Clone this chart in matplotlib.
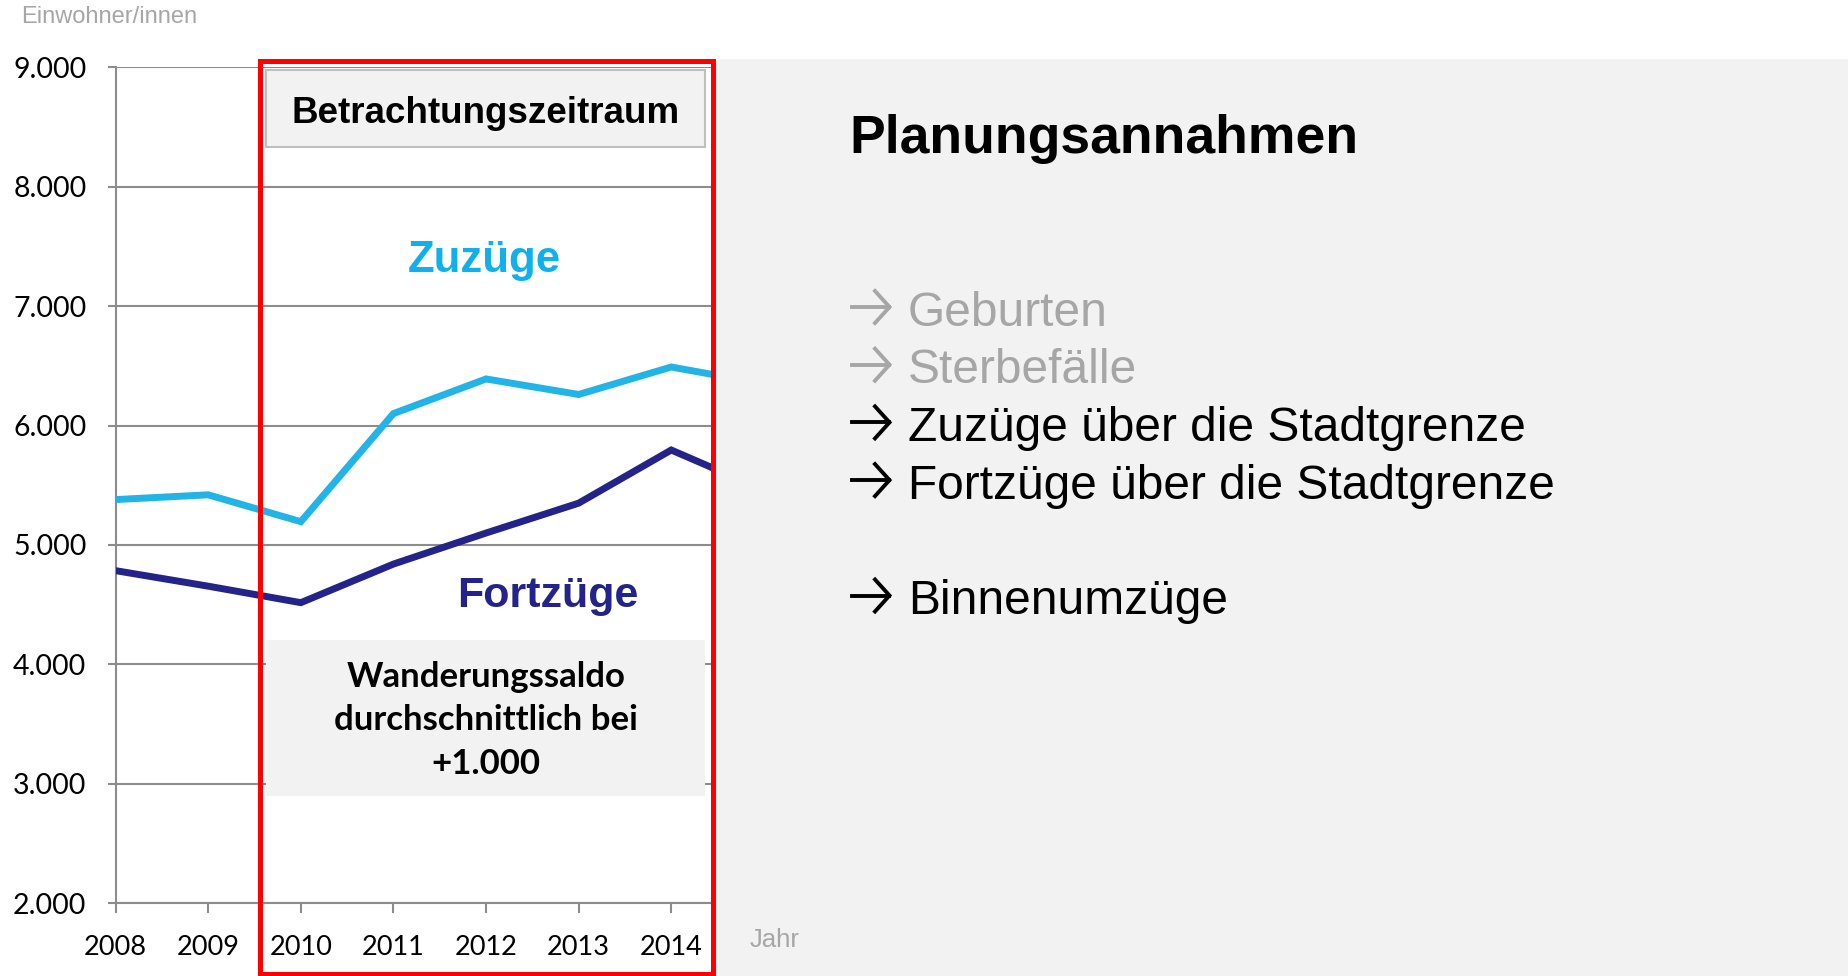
import matplotlib
matplotlib.use("Agg")
import matplotlib.pyplot as plt
from matplotlib.patches import Rectangle
from matplotlib.lines import Line2D
from matplotlib.ticker import FuncFormatter

# -----------------------------
# Data
# -----------------------------
years = [2008, 2009, 2010, 2011, 2012, 2013, 2014, 2015]
zuzuege = [5380, 5420, 5195, 6100, 6390, 6260, 6490, 6350]
fortzuege = [4785, 4655, 4517, 4840, 5100, 5350, 5795, 5460]

y_ticks = [2000, 3000, 4000, 5000, 6000, 7000, 8000, 9000]
x_ticks = [2008, 2009, 2010, 2011, 2012, 2013, 2014]

punkte = ["Geburten", "Sterbefälle", "Zuzüge über die Stadtgrenze",
          "Fortzüge über die Stadtgrenze", "", "Binnenumzüge"]
punkt_farben = ["#a6a6a6", "#a6a6a6", "black", "black", "black", "black"]

hellblau = "#22b4e6"
dunkelblau = "#23238a"
grau = "#8c8c8c"

W, H = 1849, 976


def fx(x):
    return x / W


def fy(y):
    return 1 - y / H


ARIAL = ["Liberation Sans", "DejaVu Sans"]
CALIBRI = ["Lato", "DejaVu Sans"]

fig = plt.figure(figsize=(W / 100, H / 100), dpi=100)
fig.patch.set_facecolor("white")

# grey panel on the right
fig.patches.append(Rectangle((fx(715), 0), 1 - fx(715), fy(59), transform=fig.transFigure,
                             facecolor="#f2f2f2", edgecolor="none", zorder=-1))

# -----------------------------
# Chart
# -----------------------------
ax = fig.add_axes([fx(115.6), fy(903.3), fx(712) - fx(115.6), fy(67.2) - fy(903.3)])
ax.plot(years, zuzuege, color=hellblau, lw=5, solid_joinstyle="miter", zorder=3)
ax.plot(years, fortzuege, color=dunkelblau, lw=5, solid_joinstyle="miter", zorder=3)

ax.set_xlim(2008, 2014.44)
ax.set_ylim(2000, 9000)
ax.set_yticks(y_ticks)
ax.set_xticks(x_ticks)
ax.yaxis.set_major_formatter(FuncFormatter(lambda v, p: f"{v:,.0f}".replace(",", ".")))
ax.grid(axis="y", color=grau, lw=1.5)
ax.set_axisbelow(True)
for s in ["top", "right"]:
    ax.spines[s].set_visible(False)
for s in ["left", "bottom"]:
    ax.spines[s].set_color(grau)
    ax.spines[s].set_linewidth(1.5)
ax.tick_params(axis="y", length=6, width=1.5, color=grau, pad=15)
ax.tick_params(axis="x", length=7, width=1.5, color=grau, pad=15.5)
for lab in ax.get_yticklabels():
    lab.set_fontfamily(CALIBRI)
    lab.set_fontsize(20.5)
for lab in ax.get_xticklabels():
    lab.set_fontfamily(CALIBRI)
    lab.set_fontsize(19.5)

fig.text(fx(21), fy(17), "Einwohner/innen", family=ARIAL, fontsize=17,
         color="#a6a6a6", ha="left", va="center")
fig.text(fx(750), fy(940), "Jahr", family=ARIAL, fontsize=18.5,
         color="#a6a6a6", ha="left", va="center")

# series labels
fig.text(fx(484.6), fy(260.5), "Zuzüge", family=ARIAL, fontsize=31.5, weight="bold",
         color="#10b0ec", ha="center", va="center")
fig.text(fx(548), fy(596.5), "Fortzüge", family=ARIAL, fontsize=31, weight="bold",
         color=dunkelblau, ha="center", va="center")

# boxes inside the red frame
fig.patches.append(Rectangle((fx(266.5), fy(147.4)), fx(705) - fx(266.5), fy(69.6) - fy(147.4),
                             transform=fig.transFigure, facecolor="#f2f2f2",
                             edgecolor="#bfbfbf", lw=1.5, zorder=4))
fig.text(fx(485.7), fy(113.5), "Betrachtungszeitraum", family=ARIAL, fontsize=26.5,
         weight="bold", ha="center", va="center", zorder=5)

fig.patches.append(Rectangle((fx(266.5), fy(796)), fx(705) - fx(266.5), fy(640) - fy(796),
                             transform=fig.transFigure, facecolor="#f2f2f2",
                             edgecolor="none", zorder=4))
fig.text(fx(485.7), fy(720.5), "Wanderungssaldo\ndurchschnittlich bei\n+1.000", family=CALIBRI,
         fontsize=25, weight="bold", ha="center", va="center", linespacing=1.45, zorder=5)

# red frame
fig.patches.append(Rectangle((fx(259.5), fy(974)), fx(712.5) - fx(259.5), fy(61.5) - fy(974),
                             transform=fig.transFigure, facecolor="none",
                             edgecolor="#ff0000", lw=3.6, zorder=6))

# -----------------------------
# Right text
# -----------------------------
fig.text(fx(849), fy(139), "Planungsannahmen", family=ARIAL, fontsize=38.5,
         weight="bold", ha="left", va="center")

for i, (txt, col) in enumerate(zip(punkte, punkt_farben)):
    if not txt:
        continue
    y = 313 + i * 57.7
    ya = y - 6
    # arrow: shaft + open head
    fig.add_artist(Line2D([fx(852), fx(889)], [fy(ya), fy(ya)], color=col, lw=2.8,
                          transform=fig.transFigure))
    fig.add_artist(Line2D([fx(875), fx(889.5), fx(875)], [fy(ya - 16), fy(ya), fy(ya + 16)],
                          color=col, lw=2.8, solid_joinstyle="miter",
                          transform=fig.transFigure))
    fig.text(fx(908), fy(y), txt, family=ARIAL, fontsize=34.5, color=col,
             ha="left", va="center")

fig.savefig("out.png", dpi=100)
